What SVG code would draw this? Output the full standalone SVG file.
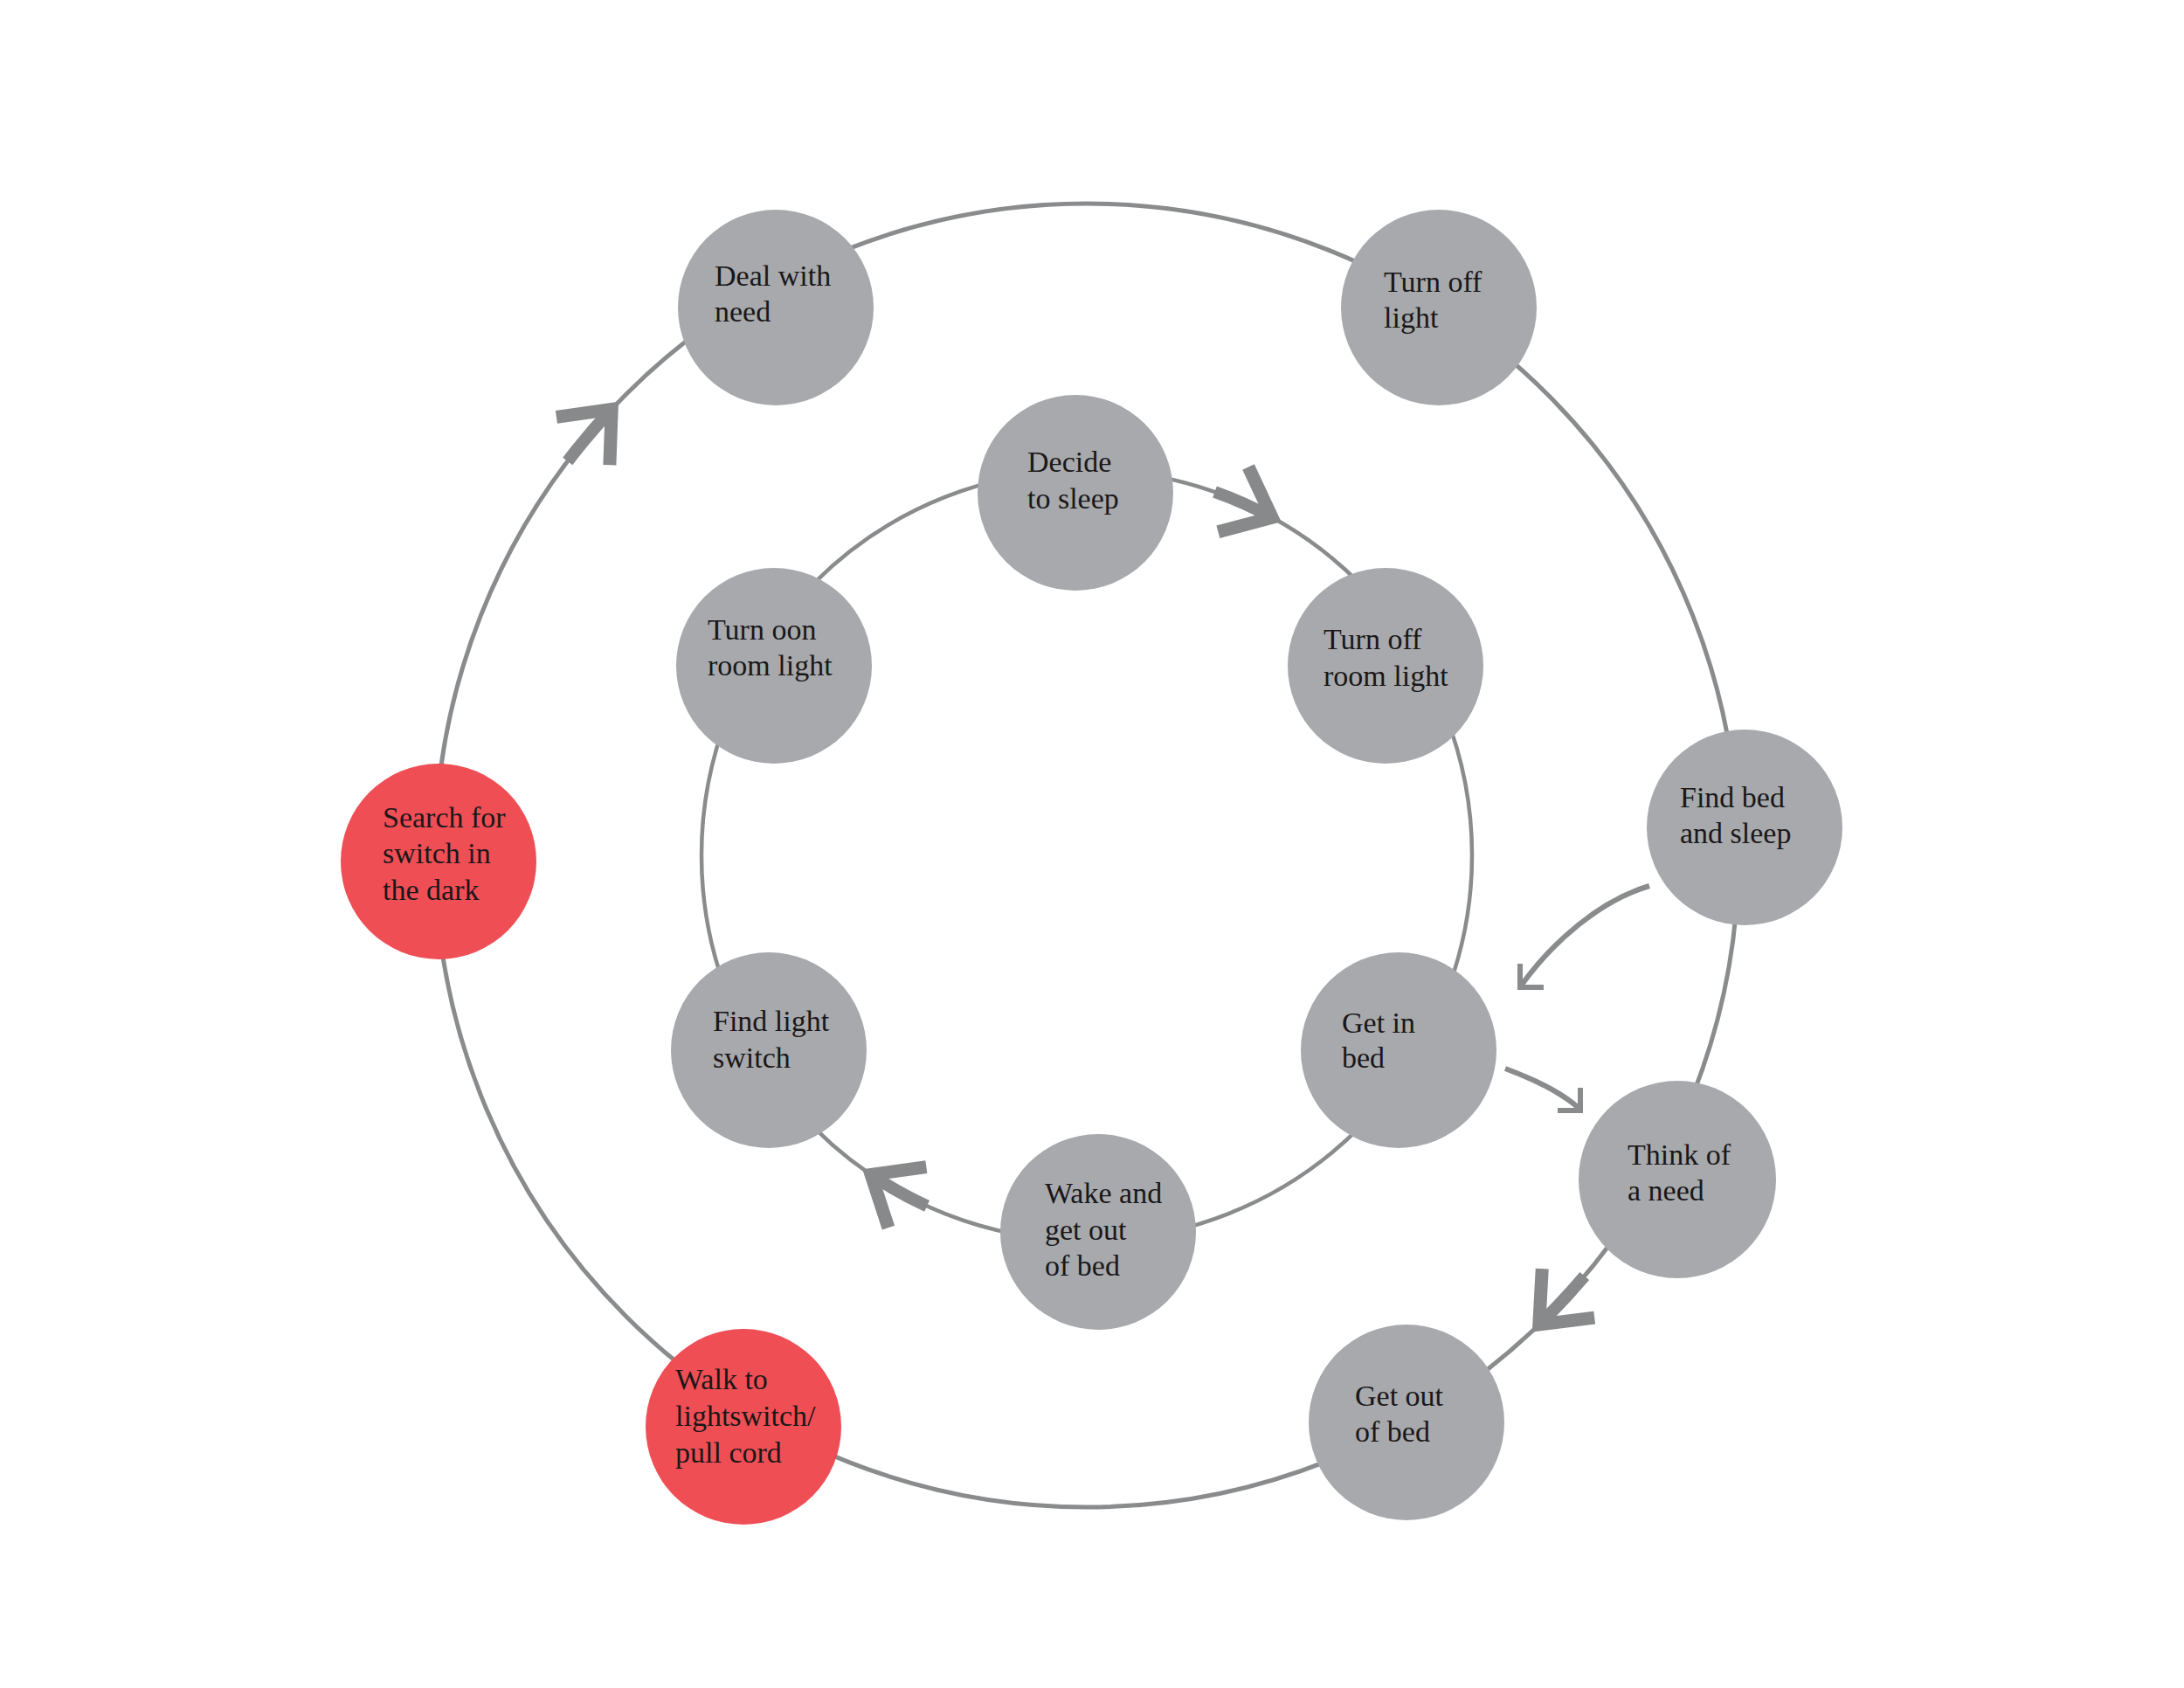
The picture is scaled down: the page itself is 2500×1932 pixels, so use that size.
<svg xmlns="http://www.w3.org/2000/svg" xmlns:xlink="http://www.w3.org/1999/xlink" width="2500" height="1932" viewBox="0 0 2500 1932">
<style>
.ring{fill:none;stroke:#8A8B8D}
.shaft{fill:none;stroke:#88898B;stroke-width:14;stroke-linecap:butt}
.chev{fill:none;stroke:#88898B;stroke-width:15;stroke-linejoin:miter;stroke-miterlimit:10;stroke-linecap:butt}
.thin{fill:none;stroke:#8A8B8D;stroke-width:6;stroke-linecap:butt;stroke-linejoin:miter;stroke-miterlimit:10}
.node{fill:#A7A9AC}
.hot{fill:#EF4E55}
text{font-family:"Liberation Serif","Times New Roman",serif;font-size:34px;fill:#1A1718}
</style>
<defs>
<path id="chev" class="chev" d="M-49,-41 L0,0 L-49,41"/>
</defs>
<rect width="2500" height="1932" fill="#FFFFFF"/>
<g id="connectors">
<circle class="ring" cx="1244" cy="979" r="746" stroke-width="5"/>
<circle class="ring" cx="1244" cy="979" r="441" stroke-width="4.5"/>
<path class="shaft" d="M649.8,528 A746,746 0 0 1 700.2,468.4"/>
<use xlink:href="#chev" transform="translate(700.2,468.4) rotate(-48)"/>
<path class="shaft" d="M1390.5,563 A441,441 0 0 1 1456.1,592.4"/>
<use xlink:href="#chev" transform="translate(1456.1,592.4) rotate(25)"/>
<path class="shaft" d="M1061.1,1380.3 A441,441 0 0 1 997.1,1344.4"/>
<use xlink:href="#chev" transform="translate(997.1,1344.4) rotate(212)"/>
<path class="shaft" d="M1813.8,1460.5 A746,746 0 0 1 1761.8,1516"/>
<use xlink:href="#chev" transform="translate(1761.8,1516) rotate(133)"/>
<path class="thin" d="M1888,1014 C1830.4,1030.8 1776.3,1079.5 1742,1127"/>
<path class="thin" d="M1740,1103 L1740,1130 L1767,1130"/>
<path class="thin" d="M1723,1223 C1753.9,1234.6 1784.3,1248 1807,1268"/>
<path class="thin" d="M1809,1245 L1809,1271 L1783,1271"/>
</g>
<g id="deal-with-need"><circle class="node" cx="888" cy="352" r="112"/><text x="818" y="327">Deal with</text><text x="818" y="368">need</text></g>
<g id="turn-off-light"><circle class="node" cx="1647" cy="352" r="112"/><text x="1584" y="334">Turn off</text><text x="1584" y="375">light</text></g>
<g id="decide-to-sleep"><circle class="node" cx="1231" cy="564" r="112"/><text x="1176" y="540">Decide</text><text x="1176" y="582">to sleep</text></g>
<g id="turn-oon-room-light"><circle class="node" cx="886" cy="762" r="112"/><text x="810" y="732">Turn oon</text><text x="810" y="773">room light</text></g>
<g id="turn-off-room-light"><circle class="node" cx="1586" cy="762" r="112"/><text x="1515" y="743">Turn off</text><text x="1515" y="785">room light</text></g>
<g id="find-bed-and-sleep"><circle class="node" cx="1997" cy="947" r="112"/><text x="1923" y="924">Find bed</text><text x="1923" y="965">and sleep</text></g>
<g id="search-for-switch"><circle class="hot" cx="502" cy="986" r="112"/><text x="438" y="947">Search for</text><text x="438" y="988">switch in</text><text x="438" y="1030">the dark</text></g>
<g id="find-light-switch"><circle class="node" cx="880" cy="1202" r="112"/><text x="816" y="1180">Find light</text><text x="816" y="1222">switch</text></g>
<g id="get-in-bed"><circle class="node" cx="1601" cy="1202" r="112"/><text x="1536" y="1182">Get in</text><text x="1536" y="1222">bed</text></g>
<g id="think-of-a-need"><circle class="node" cx="1920" cy="1350" r="113"/><text x="1863" y="1333">Think of</text><text x="1863" y="1374">a need</text></g>
<g id="wake-and-get-out-of-bed"><circle class="node" cx="1257" cy="1410" r="112"/><text x="1196" y="1377">Wake and</text><text x="1196" y="1419">get out</text><text x="1196" y="1460">of bed</text></g>
<g id="walk-to-lightswitch"><circle class="hot" cx="851" cy="1633" r="112"/><text x="773" y="1590">Walk to</text><text x="773" y="1632">lightswitch/</text><text x="773" y="1674">pull cord</text></g>
<g id="get-out-of-bed"><circle class="node" cx="1610" cy="1628" r="112"/><text x="1551" y="1609">Get out</text><text x="1551" y="1650">of bed</text></g>
</svg>
